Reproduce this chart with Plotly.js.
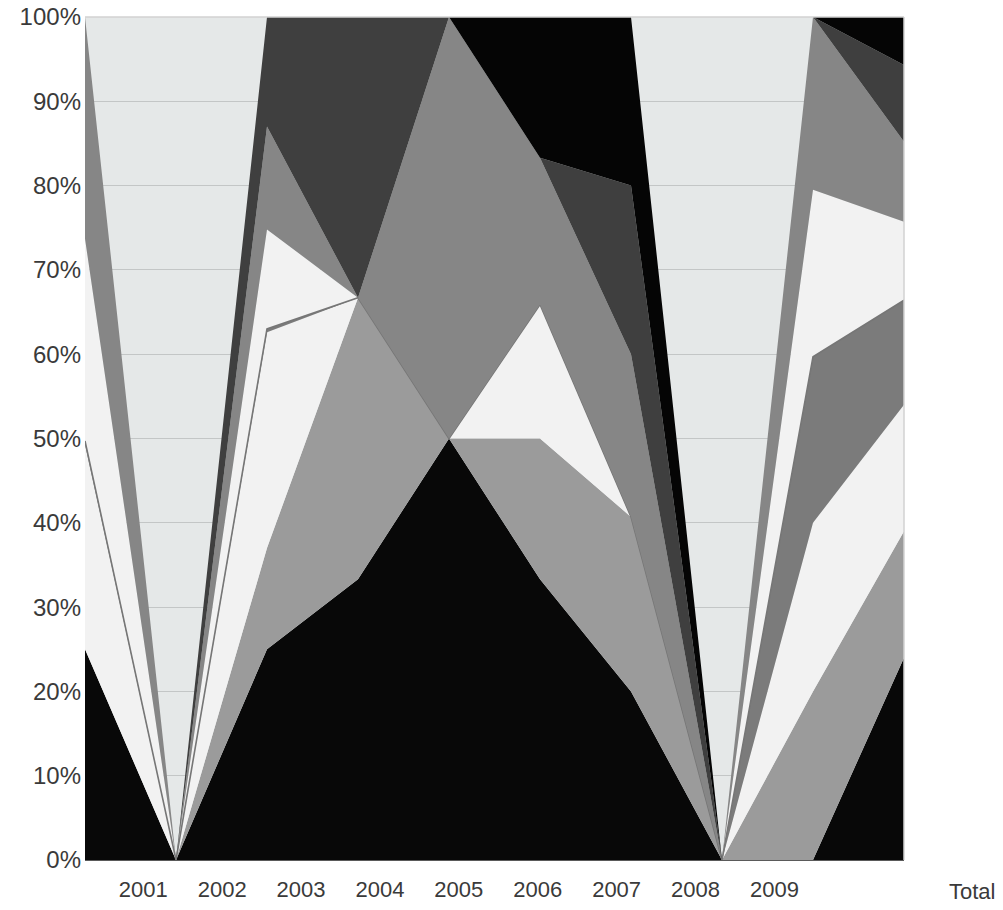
<!DOCTYPE html>
<html>
<head>
<meta charset="utf-8">
<script src="https://cdn.plot.ly/plotly-3.0.1.min.js"></script>
<style>
  html, body { margin: 0; padding: 0; background: #ffffff; }
  #chart { width: 1003px; height: 910px; }
</style>
</head>
<body>
<div id="chart"></div>
<script>
// Ten data points along the category axis (positions 0..9)
const points = [0, 1, 2, 3, 4, 5, 6, 7, 8, 9];

// Tick labels
const yearLabels = ['2001', '2002', '2003', '2004', '2005', '2006', '2007', '2008', '2009'];
const totalLabel = 'Total';

// Series values (percent of each point, stacked bottom to top)
const series1 = [25, 0, 25, 33.3, 50, 33.3, 20, 0, 0, 24];
const series2 = [0, 0, 12, 33.4, 0, 16.7, 20.7, 0, 20, 15];
const series3 = [24.3, 0, 25.6, 0, 0, 15.9, 0, 0, 20, 15];
const series4 = [0.4, 0, 0.4, 0, 0, 0, 0, 0, 19.7, 12.4];
const series5 = [24, 0, 11.8, 0, 0, 0, 0, 0, 19.8, 9.3];
const series6 = [26.3, 0, 12.2, 0, 50, 17.4, 19.3, 0, 20.5, 9.5];
const series7 = [0, 0, 13, 33.3, 0, 0, 20, 0, 0, 9.1];
const series8 = [0, 0, 0, 0, 0, 16.7, 20, 0, 0, 5.7];

const seriesList = [series1, series2, series3, series4, series5, series6, series7, series8];
const fills = ['#080808', '#9b9b9b', '#f2f2f2', '#7b7b7b', '#f2f2f2', '#868686', '#3f3f3f', '#050505'];

const traces = seriesList.map((vals, i) => {
  const t = {
    type: 'scatter',
    x: points,
    y: vals,
    stackgroup: 'one',
    fillcolor: fills[i],
    line: { shape: 'linear', width: 0, color: fills[i] },
    mode: 'none',
    hoverinfo: 'skip',
    showlegend: false
  };
  if (i === 3) {
    t.mode = 'lines';
    t.line = { shape: 'linear', width: 1.6, color: '#767676' };
  }
  return t;
});

const labelStart = 0.64;
const labelStep = 0.867;
const tickPositions = yearLabels.map((_, i) => labelStart + labelStep * i);

const xFont = { family: 'Liberation Sans, Arial, sans-serif', size: 22, color: '#3a3a3a' };
const yFont = { family: 'Liberation Sans, Arial, sans-serif', size: 24, color: '#3a3a3a' };

const layout = {
  width: 1003,
  height: 910,
  margin: { l: 85, r: 99, t: 17, b: 50 },
  paper_bgcolor: '#ffffff',
  plot_bgcolor: '#e5e8e8',
  showlegend: false,
  xaxis: {
    range: [0, 9],
    tickmode: 'array',
    tickvals: tickPositions,
    ticktext: yearLabels,
    showgrid: false,
    zeroline: false,
    showline: true,
    linecolor: '#5a5a5a',
    linewidth: 1,
    ticks: '',
    ticklabelstandoff: 10,
    tickfont: xFont,
    fixedrange: true
  },
  yaxis: {
    range: [0, 100],
    dtick: 10,
    tick0: 0,
    ticksuffix: '%',
    showgrid: true,
    gridcolor: '#c3c6c6',
    gridwidth: 1,
    zeroline: false,
    showline: false,
    ticks: '',
    ticklabelstandoff: 3,
    tickfont: yFont,
    fixedrange: true
  },
  shapes: [
    { type: 'line', xref: 'paper', yref: 'paper', x0: 0, x1: 1, y0: 1, y1: 1, line: { color: '#d2d2d2', width: 1.5 }, layer: 'above' },
    { type: 'line', xref: 'paper', yref: 'paper', x0: 1, x1: 1, y0: 0, y1: 1, line: { color: '#d2d2d2', width: 1.5 }, layer: 'above' }
  ],
  annotations: [
    {
      xref: 'paper', yref: 'paper',
      x: 1.083, y: -0.037,
      xanchor: 'center', yanchor: 'middle',
      text: totalLabel,
      showarrow: false,
      font: xFont
    }
  ]
};

Plotly.newPlot('chart', traces, layout, { displayModeBar: false, staticPlot: true });
</script>
</body>
</html>
